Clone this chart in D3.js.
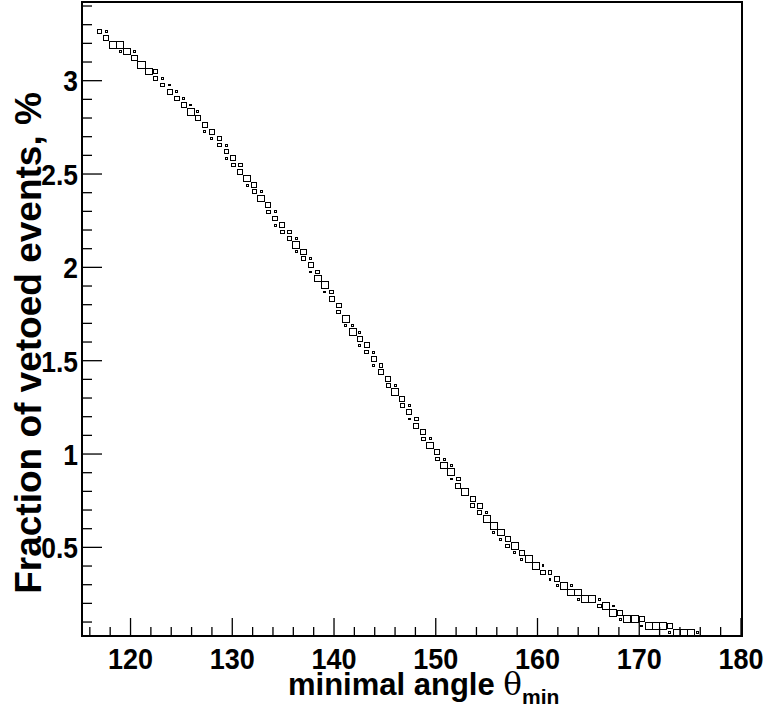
<!DOCTYPE html>
<html><head><meta charset="utf-8">
<script src="https://cdn.jsdelivr.net/npm/d3@7"></script>
<style>
html,body{margin:0;padding:0;background:#fff;}
text{font-family:"Liberation Sans",Arial,Helvetica,sans-serif;font-weight:bold;fill:#000;}
</style></head>
<body><svg id="c" width="769" height="707"></svg>
<script>
// ---- data: 2D histogram (box option), one entry per filled cell ----
const theta = [
 116.93,117.62, 117.62, 118.31,119.01, 119.01,119.70,120.39, 120.39, 121.08,
 121.77,122.47, 122.47,123.16, 123.16,123.85, 123.85,124.54, 124.54,125.24,
 125.24,125.93, 125.93,126.62, 126.62, 127.31, 127.31,128.00, 128.00,128.70,
 128.70,129.39, 129.39, 129.39,130.08, 130.08,130.77, 130.77, 131.47,
 131.47,132.16, 132.16,132.85, 132.85, 133.54, 133.54,134.23, 134.23,
 134.23,134.93, 134.93,135.62, 135.62,136.31, 136.31, 136.31,137.00,
 137.00,137.70, 137.70, 137.70,138.39, 138.39, 139.08, 139.08,139.77,
 139.77, 140.46, 140.46, 141.16, 141.16,141.85, 141.85,142.54, 142.54,
 142.54,143.23, 143.23,143.92, 143.92, 143.92,144.62, 144.62, 145.31,
 145.31,146.00, 146.00, 146.69, 146.69,147.39, 147.39, 147.39,148.08,
 148.08, 148.77, 148.77,149.46, 149.46, 150.15, 150.15,150.85,
 150.85,151.54, 151.54, 151.54,152.23, 152.23, 152.92, 153.62,
 153.62,154.31, 154.31,155.00, 155.00, 155.69, 155.69,156.38,
 156.38,157.08, 157.08,157.77, 157.77,158.46, 158.46,159.15,
 159.85,160.54, 160.54,161.23, 161.23,161.92, 161.92,162.61,163.31,
 163.31,164.00, 164.00,164.69,165.38,166.08, 166.08,166.77,167.46,
 167.46,168.15, 168.15,168.84,169.54,170.23, 170.23,170.92,171.61,172.31,173.00,
 173.00,173.69,174.38,175.08,175.77
];
const fraction = [
 3.263,3.263, 3.227, 3.192,3.192, 3.156,3.156,3.156, 3.120, 3.084,
 3.049,3.049, 3.013,3.013, 2.977,2.977, 2.941,2.941, 2.905,2.905,
 2.870,2.870, 2.834,2.834, 2.798, 2.762, 2.727,2.727, 2.691,2.691,
 2.655,2.655, 2.619, 2.584,2.584, 2.548,2.548, 2.512, 2.476,
 2.440,2.440, 2.405,2.405, 2.369, 2.333, 2.297,2.297, 2.262,
 2.226,2.226, 2.190,2.190, 2.154,2.154, 2.118, 2.083,2.083,
 2.047,2.047, 2.011, 1.975,1.975, 1.940, 1.904, 1.868,1.868,
 1.832, 1.796, 1.761, 1.725, 1.689,1.689, 1.653,1.653, 1.618,
 1.582,1.582, 1.546,1.546, 1.510, 1.474,1.474, 1.439, 1.403,
 1.367,1.367, 1.331, 1.295, 1.260,1.260, 1.224, 1.188,1.188,
 1.152, 1.117, 1.081,1.081, 1.045, 1.009, 0.973,0.973,
 0.938,0.938, 0.902, 0.866,0.866, 0.830, 0.795, 0.759,
 0.723,0.723, 0.687,0.687, 0.651, 0.616, 0.580,0.580,
 0.544,0.544, 0.508,0.508, 0.472,0.472, 0.437,0.437,
 0.401,0.401, 0.365,0.365, 0.329,0.329, 0.294,0.294,0.294,
 0.258,0.258, 0.222,0.222,0.222,0.222, 0.186,0.186,0.186,
 0.150,0.150, 0.115,0.115,0.115,0.115, 0.079,0.079,0.079,0.079,0.079,
 0.043,0.043,0.043,0.043,0.043
];
const counts = [
 56,28, 72, 100,100, 28,100,28, 72, 100,
 100,56, 56,28, 56,28, 72,28, 72,28,
 72,28, 100,28, 72, 72, 28,72, 28,56,
 56,28, 56, 28,72, 56,56, 72, 100,
 28,72, 56,28, 100, 72, 56,28, 72,
 28,72, 56,56, 56,28, 100, 28,72,
 56,28, 72, 28,56, 100, 100, 28,56,
 72, 72, 56, 100, 28,28, 100,28, 72,
 28,72, 56,28, 72, 28,56, 72, 72,
 56,28, 100, 72, 56,28, 72, 28,56,
 72, 72, 56,28, 100, 72, 56,28,
 100,28, 100, 28,56, 72, 100, 72,
 56,72, 56,28, 100, 100, 28,100,
 28,72, 56,100, 28,72, 28,100,
 100,28, 72,56, 28,72, 28,100,28,
 100,100, 28,100,100,28, 56,100,28,
 100,72, 28,100,100,72, 28,100,100,100,72,
 28,100,100,100,28
];
const xBinWidth = 0.692, yBinWidth = 0.0358;
const xTickLabels = [120,130,140,150,160,170,180];
const yTickLabels = [0.5,1,1.5,2,2.5,3];
const xTitle = "minimal angle ", xTitleSym = "\u03B8", xTitleSub = "min";
const yTitle = "Fraction of vetoed events, %";

// ---- layout ----
const svg = d3.select("#c");
const L = 82, R = 742, T = 2, B = 636;
const x = d3.scaleLinear().domain([115.23, 180.1]).range([L, R]);
const y = d3.scaleLinear().domain([0.0252, 3.4215]).range([B, T]);
const cmax = d3.max(counts);

// boxes
const cells = theta.map((t,i)=>({t, f:fraction[i], c:counts[i]}));
svg.append("g").attr("shape-rendering","crispEdges").selectAll("rect").data(cells).join("rect")
  .attr("x", d => x(d.t - xBinWidth*d.c/cmax/2))
  .attr("y", d => y(d.f + yBinWidth*d.c/cmax/2))
  .attr("width", d => x(d.t + xBinWidth*d.c/cmax/2) - x(d.t - xBinWidth*d.c/cmax/2))
  .attr("height", d => y(d.f - yBinWidth*d.c/cmax/2) - y(d.f + yBinWidth*d.c/cmax/2))
  .attr("fill","none").attr("stroke","#000").attr("stroke-width",1);

// axes ticks (inward)
const gx = svg.append("g");
const xMinor = d3.range(116, 180, 2).filter(v => v % 10 !== 0);
gx.selectAll("line.mn").data(xMinor).join("line")
  .attr("x1",d=>x(d)).attr("x2",d=>x(d)).attr("y1",B).attr("y2",B-9)
  .attr("stroke","#000").attr("stroke-width",1.3);
gx.selectAll("line.mj").data(xTickLabels).join("line")
  .attr("x1",d=>x(d)).attr("x2",d=>x(d)).attr("y1",B).attr("y2",B-18)
  .attr("stroke","#000").attr("stroke-width",1.3);
gx.selectAll("text").data(xTickLabels).join("text")
  .attr("transform",d=>`translate(${x(d)},669) scale(0.9,1)`).attr("text-anchor","middle")
  .attr("font-size",30).text(d=>d);

const gy = svg.append("g");
const yMinor = d3.range(1, 35).map(v=>v/10).filter(v => Math.abs(v*2 - Math.round(v*2))>1e-6);
gy.selectAll("line.mn").data(yMinor).join("line")
  .attr("x1",L).attr("x2",L+10).attr("y1",d=>y(d)).attr("y2",d=>y(d))
  .attr("stroke","#000").attr("stroke-width",1.3);
gy.selectAll("line.mj").data(yTickLabels).join("line")
  .attr("x1",L).attr("x2",L+20).attr("y1",d=>y(d)).attr("y2",d=>y(d))
  .attr("stroke","#000").attr("stroke-width",1.3);
gy.selectAll("text").data(yTickLabels).join("text")
  .attr("transform",d=>`translate(78,${y(d)}) scale(0.88,1)`).attr("dy","0.36em").attr("text-anchor","end")
  .attr("font-size",30).text(d=>d);

// frame
svg.append("rect").attr("x",L).attr("y",T).attr("width",R-L).attr("height",B-T)
  .attr("fill","none").attr("stroke","#000").attr("stroke-width",2);

// titles
const xt = svg.append("text").attr("x",288).attr("y",695).attr("font-size",31);
xt.append("tspan").text(xTitle);
xt.append("tspan").attr("font-weight","normal").attr("font-family","DejaVu Serif, serif").text(xTitleSym);
xt.append("tspan").attr("font-size",21).attr("dy",9).text(xTitleSub);

svg.append("text").attr("transform","translate(41,343) rotate(-90)")
  .attr("text-anchor","middle").attr("font-size",37).text(yTitle);
</script></body></html>
